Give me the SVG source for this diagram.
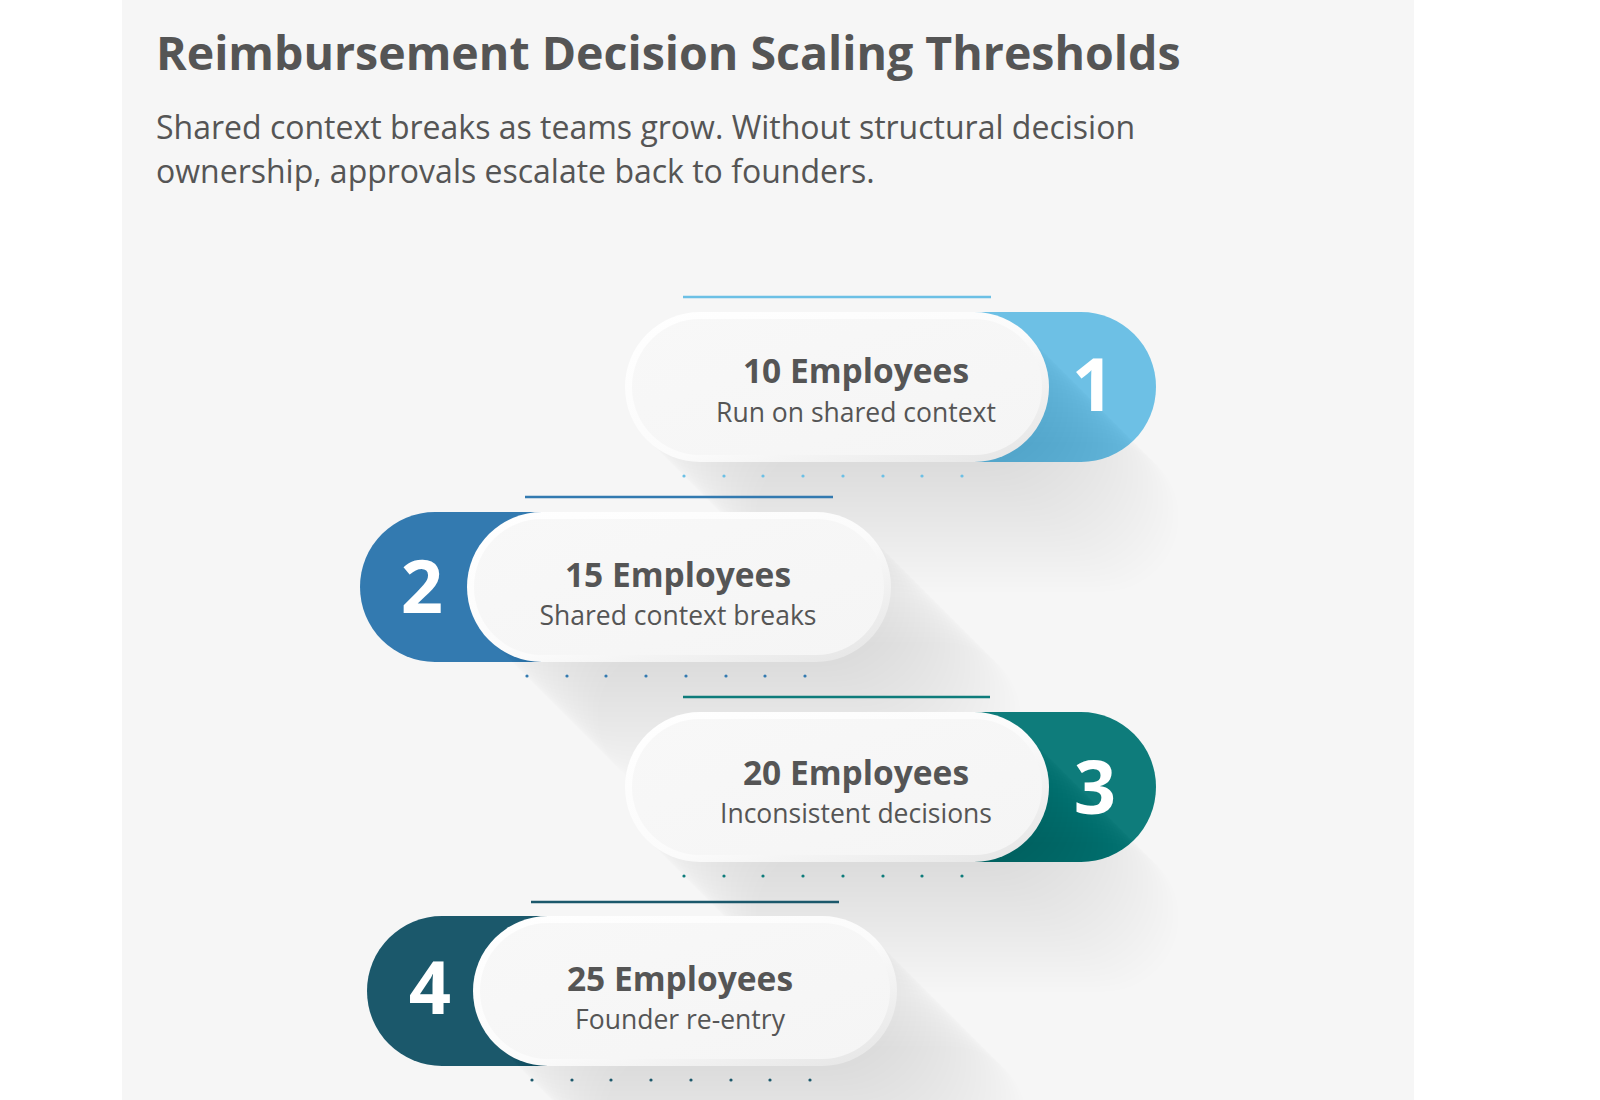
<svg xmlns="http://www.w3.org/2000/svg" xmlns:xlink="http://www.w3.org/1999/xlink" width="1600" height="1100" viewBox="0 0 1600 1100">
<style>
  .title{font-family:"Open Sans","Liberation Sans",sans-serif;font-weight:700;font-size:46.5px;fill:#555555}
  .sub{font-family:"Open Sans","Liberation Sans",sans-serif;font-size:32px;fill:#555555}
  .head{font-family:"Open Sans","Liberation Sans",sans-serif;font-weight:700;font-size:33.5px;fill:#555555;text-anchor:middle}
  .desc{font-family:"Open Sans","Liberation Sans",sans-serif;font-size:26.5px;fill:#555555;text-anchor:middle}
  .num{font-family:"Open Sans","Liberation Sans",sans-serif;font-weight:700;font-size:74px;fill:#ffffff;text-anchor:middle}
  .ring{fill:url(#ringGrad)}
  .inner{fill:url(#innerGrad)}
  .sh rect{fill:#000000;fill-opacity:0.0045}
</style>
<defs>
  <linearGradient id="ringGrad" x1="0" y1="0" x2="1" y2="1">
    <stop offset="0" stop-color="#ffffff"/>
    <stop offset="0.55" stop-color="#fbfbfb"/>
    <stop offset="1" stop-color="#e4e4e4"/>
  </linearGradient>
  <linearGradient id="innerGrad" x1="0" y1="0" x2="1" y2="1">
    <stop offset="0" stop-color="#f8f8f8"/>
    <stop offset="1" stop-color="#f5f5f5"/>
  </linearGradient>
  <g id="longShadow" class="sh">
    <rect x="5" y="5" width="424" height="150" rx="75"/>
    <rect x="10" y="10" width="424" height="150" rx="75"/>
    <rect x="15" y="15" width="424" height="150" rx="75"/>
    <rect x="20" y="20" width="424" height="150" rx="75"/>
    <rect x="25" y="25" width="424" height="150" rx="75"/>
    <rect x="30" y="30" width="424" height="150" rx="75"/>
    <rect x="35" y="35" width="424" height="150" rx="75"/>
    <rect x="40" y="40" width="424" height="150" rx="75"/>
    <rect x="45" y="45" width="424" height="150" rx="75"/>
    <rect x="50" y="50" width="424" height="150" rx="75"/>
    <rect x="55" y="55" width="424" height="150" rx="75"/>
    <rect x="60" y="60" width="424" height="150" rx="75"/>
    <rect x="65" y="65" width="424" height="150" rx="75"/>
    <rect x="70" y="70" width="424" height="150" rx="75"/>
    <rect x="75" y="75" width="424" height="150" rx="75"/>
    <rect x="80" y="80" width="424" height="150" rx="75"/>
    <rect x="85" y="85" width="424" height="150" rx="75"/>
    <rect x="90" y="90" width="424" height="150" rx="75"/>
    <rect x="95" y="95" width="424" height="150" rx="75"/>
    <rect x="100" y="100" width="424" height="150" rx="75"/>
    <rect x="105" y="105" width="424" height="150" rx="75"/>
    <rect x="110" y="110" width="424" height="150" rx="75"/>
    <rect x="115" y="115" width="424" height="150" rx="75"/>
    <rect x="120" y="120" width="424" height="150" rx="75"/>
    <rect x="125" y="125" width="424" height="150" rx="75"/>
    <rect x="130" y="130" width="424" height="150" rx="75"/>
  </g>
  <g id="whitePill">
    <rect class="ring" x="0" y="0" width="424" height="150" rx="75"/>
    <rect class="inner" x="7" y="7" width="410" height="136" rx="68"/>
  </g>
</defs>

<rect x="0" y="0" width="1600" height="1100" fill="#ffffff"/>
<rect x="122" y="0" width="1292" height="1100" fill="#f6f6f6"/>

<g id="header">
  <text class="title" x="156" y="70">Reimbursement Decision Scaling Thresholds</text>
  <text class="sub" x="156" y="139">Shared context breaks as teams grow. Without structural decision</text>
  <text class="sub" x="156" y="183">ownership, approvals escalate back to founders.</text>
</g>

<g id="connectors"/>

<g id="step1">
  <line x1="683" y1="297" x2="991" y2="297" stroke="#6cc0e5" stroke-width="2.5"/>
  <rect x="900" y="312" width="256" height="150" rx="75" fill="#6dc0e5"/>
  <use href="#longShadow" x="625" y="312"/>
  <g fill="#6cc0e5">
    <circle cx="684" cy="476" r="1.6"/><circle cx="724" cy="476" r="1.6"/><circle cx="763" cy="476" r="1.6"/><circle cx="803" cy="476" r="1.6"/><circle cx="843" cy="476" r="1.6"/><circle cx="883" cy="476" r="1.6"/><circle cx="922" cy="476" r="1.6"/><circle cx="962" cy="476" r="1.6"/>
  </g>
  <use href="#whitePill" x="625" y="312"/>
  <text class="num" x="1093" y="411">1</text>
  <text class="head" x="856" y="383">10 Employees</text>
  <text class="desc" x="856" y="422">Run on shared context</text>
</g>

<g id="step2">
  <line x1="525" y1="497" x2="833" y2="497" stroke="#337ab0" stroke-width="2.5"/>
  <rect x="360" y="512" width="300" height="150" rx="75" fill="#337ab0"/>
  <use href="#longShadow" x="467" y="512"/>
  <g fill="#337ab0">
    <circle cx="527" cy="676" r="1.6"/><circle cx="567" cy="676" r="1.6"/><circle cx="606" cy="676" r="1.6"/><circle cx="646" cy="676" r="1.6"/><circle cx="686" cy="676" r="1.6"/><circle cx="726" cy="676" r="1.6"/><circle cx="765" cy="676" r="1.6"/><circle cx="805" cy="676" r="1.6"/>
  </g>
  <use href="#whitePill" x="467" y="512"/>
  <text class="num" x="422" y="613">2</text>
  <text class="head" x="678" y="587">15 Employees</text>
  <text class="desc" x="678" y="625">Shared context breaks</text>
</g>

<g id="step3">
  <line x1="683" y1="697" x2="990" y2="697" stroke="#0e7c7b" stroke-width="2.5"/>
  <rect x="900" y="712" width="256" height="150" rx="75" fill="#0e7c7b"/>
  <use href="#longShadow" x="625" y="712"/>
  <g fill="#0e7c7b">
    <circle cx="684" cy="876" r="1.6"/><circle cx="724" cy="876" r="1.6"/><circle cx="763" cy="876" r="1.6"/><circle cx="803" cy="876" r="1.6"/><circle cx="843" cy="876" r="1.6"/><circle cx="883" cy="876" r="1.6"/><circle cx="922" cy="876" r="1.6"/><circle cx="962" cy="876" r="1.6"/>
  </g>
  <use href="#whitePill" x="625" y="712"/>
  <text class="num" x="1095" y="814">3</text>
  <text class="head" x="856" y="785">20 Employees</text>
  <text class="desc" x="856" y="823">Inconsistent decisions</text>
</g>

<g id="step4">
  <line x1="531" y1="902" x2="839" y2="902" stroke="#1b586b" stroke-width="2.5"/>
  <rect x="367" y="916" width="300" height="150" rx="75" fill="#1b586b"/>
  <use href="#longShadow" x="473" y="916"/>
  <g fill="#1b586b">
    <circle cx="532" cy="1080" r="1.6"/><circle cx="572" cy="1080" r="1.6"/><circle cx="611" cy="1080" r="1.6"/><circle cx="651" cy="1080" r="1.6"/><circle cx="691" cy="1080" r="1.6"/><circle cx="731" cy="1080" r="1.6"/><circle cx="770" cy="1080" r="1.6"/><circle cx="810" cy="1080" r="1.6"/>
  </g>
  <use href="#whitePill" x="473" y="916"/>
  <text class="num" x="430" y="1014">4</text>
  <text class="head" x="680" y="991">25 Employees</text>
  <text class="desc" x="680" y="1029">Founder re-entry</text>
</g>
</svg>
